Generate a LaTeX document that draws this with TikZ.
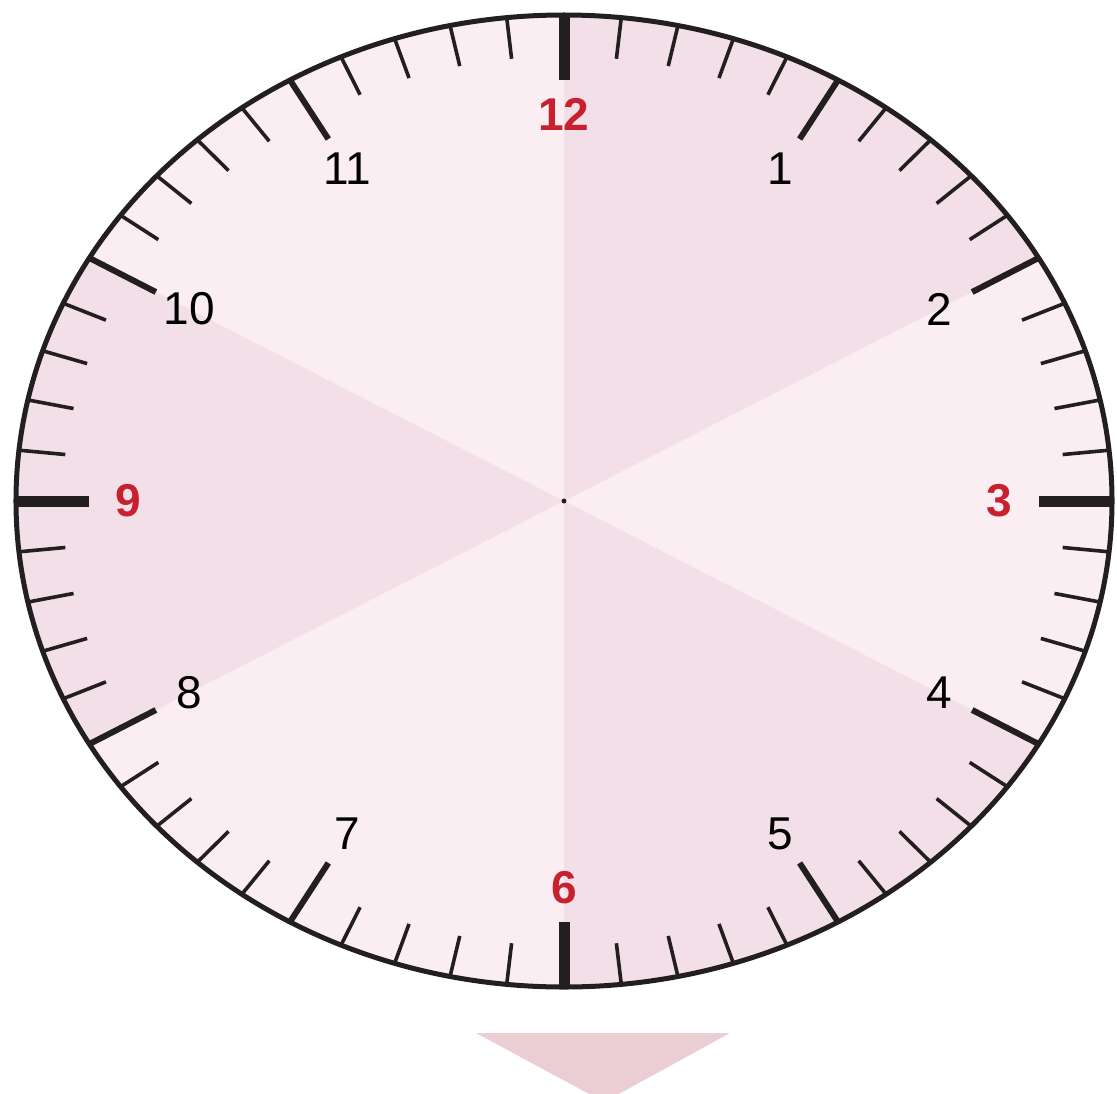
\documentclass[tikz,border=0pt]{standalone}
\usepackage{fontspec}
\setmainfont{Liberation Sans}
\definecolor{faceDark}{HTML}{F2DFE8}
\definecolor{faceLight}{HTML}{FAEEF3}
\definecolor{numRed}{HTML}{C8202E}
\definecolor{rim}{HTML}{231F20}
\definecolor{arrowPink}{HTML}{EBCDD4}

\begin{document}
\begin{tikzpicture}[x=0.5pt,y=0.5pt,
  minutetick/.style={rim,line width=1.8pt},
  hourtick/.style={rim,line width=3pt},
  quartertick/.style={rim,line width=5.5pt},
  hournum/.style={inner sep=0pt,font=\fontsize{23}{23}\selectfont},
  quarternum/.style={inner sep=0pt,numRed,font=\fontsize{23}{23}\selectfont\bfseries}]
\useasboundingbox (-564,-592) rectangle (553,501);
% arrow below the clock
\fill[arrowPink] (-88,-532) -- (166,-532) -- (40,-601) -- cycle;
\begin{scope}[xscale=548,yscale=486]
% face, three darker sectors
\fill[faceLight] (0,0) circle[radius=1];
\foreach \a in {90,-30,210}
  \fill[faceDark] (0,0) -- (\a:1) arc[start angle=\a, end angle=\a-60, radius=1] -- cycle;
% ticks
\foreach \h in {0,...,11}
  \foreach \k in {1,...,4}
    \draw[minutetick] ({\h*30+\k*6}:1) -- ({\h*30+\k*6}:0.915);
\foreach \a in {30,60,120,150,210,240,300,330}
  \draw[hourtick] (\a:1) -- (\a:0.86);
\foreach \a in {0,90,180,270}
  \draw[quartertick] (\a:1) -- (\a:0.866);
\draw[rim,line width=2.5pt] (0,0) circle[radius=1];
% numbers
\foreach \n in {1,2,4,5,7,8,10,11}
  \node[hournum] (h\n) at ({90-30*\n}:0.79) {\n};
\foreach \n in {3,6,9,12}
  \node[quarternum] (h\n) at ({90-30*\n}:0.795) {\n};
\end{scope}
\fill[rim] (0,0) circle[radius=2.5];
\end{tikzpicture}
\end{document}
